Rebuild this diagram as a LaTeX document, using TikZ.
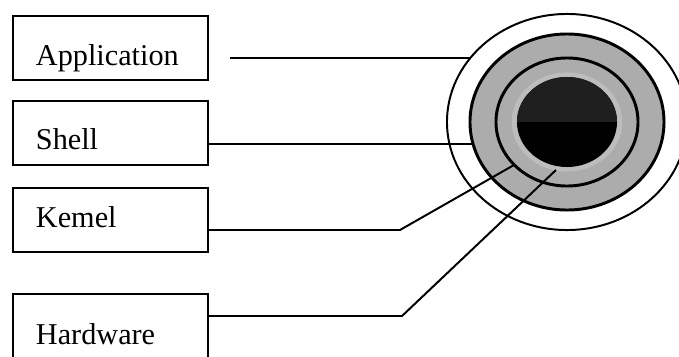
\documentclass[tikz,border=0pt]{standalone}
\usepackage{fontspec}
\setmainfont{Liberation Serif}
\usetikzlibrary{calc}

\tikzset{
  layerbox/.style={draw, line width=1.4pt, anchor=north west,
    minimum width=4.875cm, minimum height=1.6cm,
    inner xsep=0.575cm, inner ysep=0pt, text width=3.725cm, align=left,
    text height=1.2cm, text depth=0.4cm,
    font=\fontsize{21.5}{25}\selectfont},
  link/.style={line width=1.4pt},
}

\begin{document}
\begin{tikzpicture}[x=0.025cm,y=-0.025cm]
\useasboundingbox (0,0) rectangle (679,356);
\coordinate (core) at (567,122);
\coordinate (appfree) at (230,58);
\coordinate (append) at (470,58);
\coordinate (shellend) at (473,144);
\coordinate (kbend) at (400,230);
\coordinate (kend) at (514,165);
\coordinate (hbend) at (402,316);
\coordinate (hend) at (556,170);
% layers
\draw[line width=1.4pt,fill=white] (core) ellipse [x radius=3cm, y radius=2.7cm];
\draw[line width=2.1pt,fill=gray!65] (core) ellipse [x radius=2.425cm, y radius=2.2cm];
\draw[line width=2.1pt,fill=gray!65] (core) ellipse [x radius=1.775cm, y radius=1.6cm];
\fill[gray!52] (core) ellipse [x radius=1.38cm, y radius=1.24cm];
\fill[black] (core) ellipse [x radius=1.25cm, y radius=1.125cm];
\begin{scope}
\clip (core) ellipse [x radius=1.25cm, y radius=1.125cm];
\fill[black!88] (core) ++(-1.3cm,0) rectangle ++(2.6cm,1.2cm);
\end{scope}
% boxes
\node[layerbox,text height=1.25cm,text depth=0.35cm] (app) at (12,15) {Application};
\node[layerbox] (shell) at (12,100) {Shell};
\node[layerbox,text height=1.0cm,text depth=0.6cm] (kernel) at (12,187) {Kemel};
\node[layerbox,text height=1.25cm,text depth=0.35cm] (hw) at (12,293) {Hardware};
% links
\draw[link] (appfree) -- (append);
\draw[link] (shell.east |- shellend) -- (shellend);
\draw[link] (kernel.east |- kbend) -- (kbend) -- (kend);
\draw[link] (hw.east |- hbend) -- (hbend) -- (hend);
\end{tikzpicture}
\end{document}
